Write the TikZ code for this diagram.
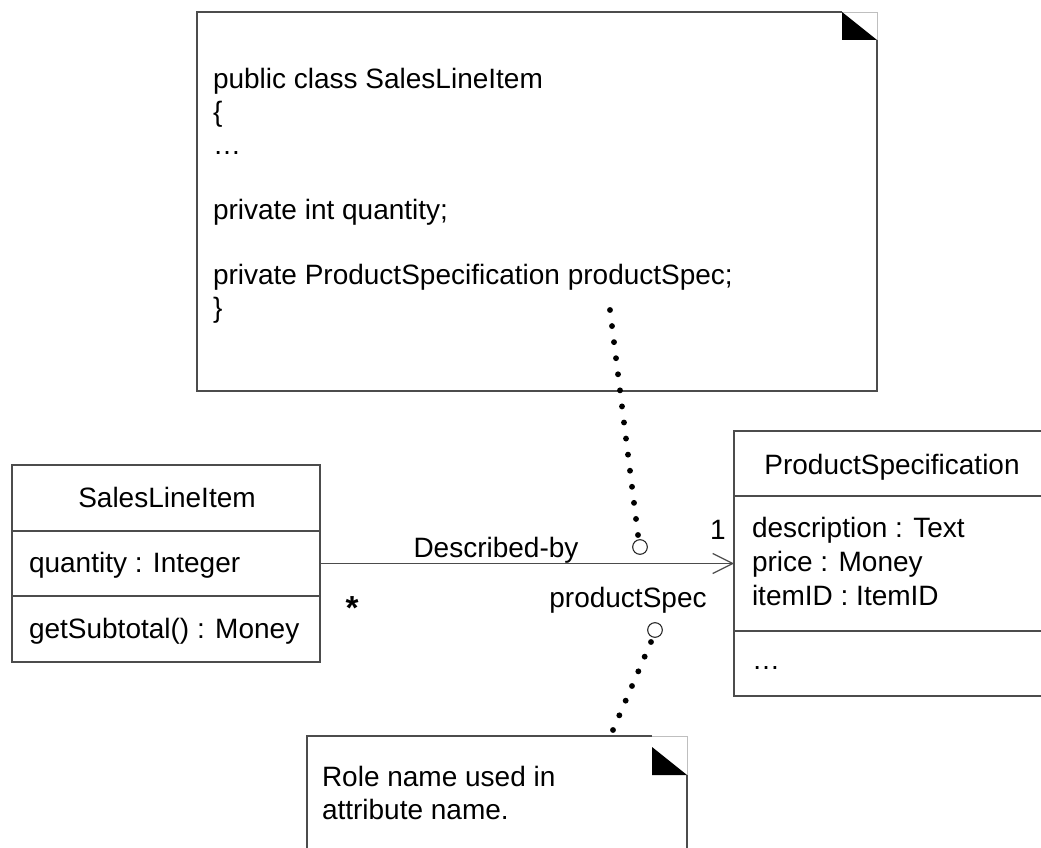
\documentclass[tikz,border=0pt]{standalone}
\usepackage{fontspec}
\setmainfont{Liberation Sans}
\usetikzlibrary{arrows.meta,calc}
\begin{document}
\begin{tikzpicture}[x=0.75pt,y=-0.75pt,
  line/.style={draw=black!70, line width=0.9pt},
  faint/.style={draw=black!25, line width=0.6pt},
  box/.style={line, rectangle, inner sep=0pt, outer sep=0pt},
  txt/.style={inner sep=0pt, outer sep=0pt, anchor=base west, font=\fontsize{21}{25}\selectfont},
  ctxt/.style={txt, anchor=base},
  dotc/.style={circle, draw=black!85, line width=0.8pt, minimum size=11pt, inner sep=0pt, outer sep=0pt},
  assoc/.style={line, -{Straight Barb[length=15pt,width=15pt,line width=0.9pt]}}
]
\useasboundingbox (0,0) rectangle (1041,848);
\clip (0,0) rectangle (1041,848);
\fill[white] (0,0) rectangle (1041,848);

% ---------- top note ----------
\draw[line] (877,40) -- (877,391) -- (197,391) -- (197,12) -- (842,12);
\draw[faint] (842,12) -- (877,12) -- (877,40);
\fill[black] (842,12) -- (877,40) -- (842,40) -- cycle;
\node[txt] (t1) at (213,89) {public class SalesLineItem};
\node[txt] (t2) at (213,122) {\{};
\node[txt] (t3) at (213,155) {…};
\node[txt] (t4) at (213,220) {private int quantity;};
\node[txt] (t5) at (213,285) {private ProductSpecification productSpec;};
\node[txt] (t6) at (213,318) {\}};

% ---------- bottom note ----------
\draw[line] (687,775) -- (687,870) (307,870) -- (307,736) -- (652,736);
\draw[faint] (652,736) -- (687,736) -- (687,775);
\fill[black] (652,747) -- (687,775) -- (652,775) -- cycle;
\node[txt] (b1) at (322,786) {Role name used in};
\node[txt] (b2) at (322,819) {attribute name.};

% ---------- SalesLineItem class ----------
\node[box, minimum width=231pt, minimum height=147.75pt] (sli) at (166,563.5) {};
\draw[line] (12,531) -- (320,531);
\draw[line] (12,596) -- (320,596);
\node[ctxt] (sliT) at (167,507) {SalesLineItem};
\node[txt] (sliA) at (29,572) {quantity : Integer};
\node[txt] (sliM) at (29,638) {getSubtotal() : Money};

% ---------- ProductSpecification class ----------
\node[box, minimum width=237pt, minimum height=198.75pt] (ps) at (892,563.5) {};
\draw[line] (734,496) -- (1050,496);
\draw[line] (734,631) -- (1050,631);
\node[ctxt] (psT) at (892,474) {ProductSpecification};
\node[txt] (psA1) at (752,537) {description : Text};
\node[txt] (psA2) at (752,571) {price : Money};
\node[txt] (psA3) at (752,605) {itemID : ItemID};
\node[txt] (psM) at (752,669) {…};

% ---------- association ----------
\draw[assoc] (sli.east) -- (ps.west);
\node[ctxt] (lblD) at (496,557) {Described-by};
\node[ctxt] (lbl1) at (718,539) {1};
\node[ctxt, font=\fontsize{25}{28}\selectfont\bfseries] (lblStar) at (352,619) {*};
\node[ctxt] (lblRole) at (628,607) {productSpec};

% ---------- small circles and dotted anchors ----------
\node[dotc] (c1) at (640,547) {};
\node[dotc] (c2) at (655,630) {};
\coordinate (d1a) at (610,310);
\coordinate (d1b) at (638,535);
\coordinate (d2a) at (651,642);
\coordinate (d2b) at (613,730);
\foreach \i in {0,...,14} \fill[black] ($(d1a)!\i/14!(d1b)$) circle (2.2pt);
\foreach \i in {0,...,6} \fill[black] ($(d2a)!\i/6!(d2b)$) circle (2.2pt);
\end{tikzpicture}
\end{document}
